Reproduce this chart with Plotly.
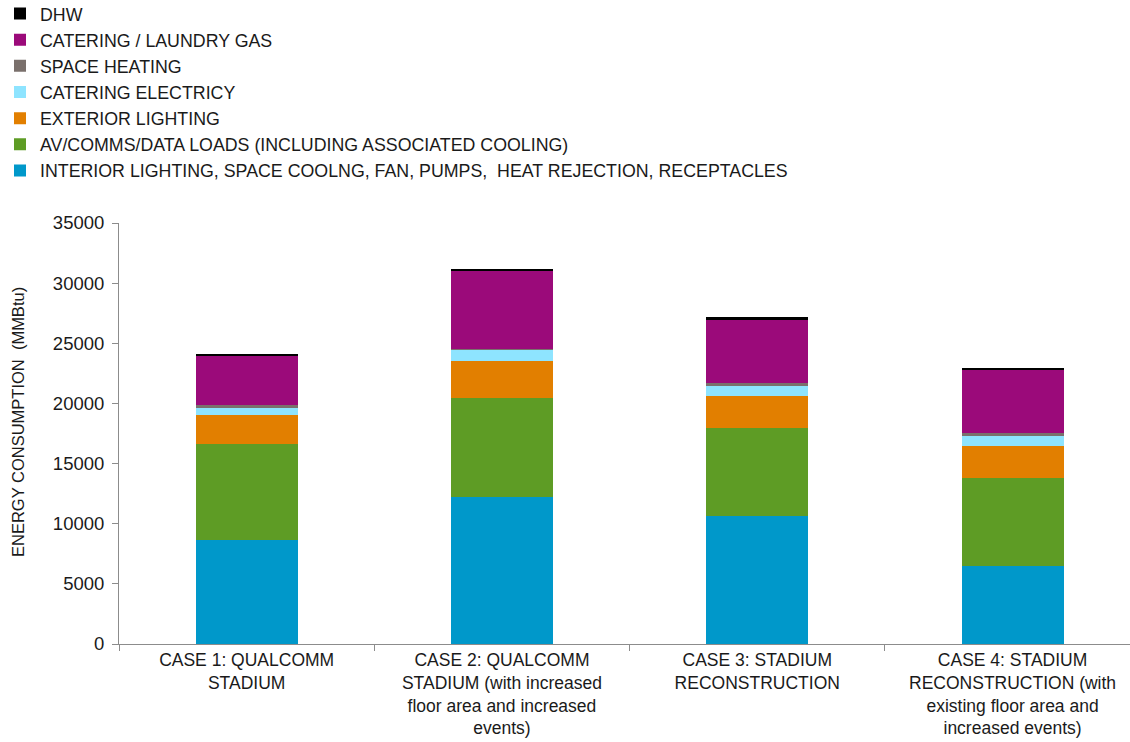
import plotly.graph_objects as go

categories = [
    "CASE 1: QUALCOMM<br>STADIUM",
    "CASE 2: QUALCOMM<br>STADIUM (with increased<br>floor area and increased<br>events)",
    "CASE 3: STADIUM<br>RECONSTRUCTION",
    "CASE 4: STADIUM<br>RECONSTRUCTION (with<br>existing floor area and<br>increased events)",
]

interior = [8650, 12220, 10670, 6510]
av_loads = [8000, 8255, 7290, 7260]
exterior = [2400, 3025, 2660, 2690]
catering_elec = [600, 1000, 860, 860]
space_heating = [200, 60, 220, 220]
catering_gas = [4160, 6450, 5315, 5320]
dhw = [100, 165, 165, 110]

series = [
    ("INTERIOR LIGHTING, SPACE COOLNG, FAN, PUMPS,  HEAT REJECTION, RECEPTACLES", interior, "#0098ca"),
    ("AV/COMMS/DATA LOADS (INCLUDING ASSOCIATED COOLING)", av_loads, "#5e9c25"),
    ("EXTERIOR LIGHTING", exterior, "#e27f00"),
    ("CATERING ELECTRICY", catering_elec, "#8ee4ff"),
    ("SPACE HEATING", space_heating, "#7a706c"),
    ("CATERING / LAUNDRY GAS", catering_gas, "#9b0a7a"),
    ("DHW", dhw, "#000000"),
]

fig = go.Figure()
for i, (name, vals, color) in enumerate(series):
    fig.add_trace(go.Bar(
        x=categories, y=vals, name=name, legendgroup=f"g{i}",
        marker=dict(color=color, line=dict(width=0)),
    ))

font_family = "Liberation Sans, Arial, sans-serif"
txt = "#1a1a1a"
L, T, B = 119, 223, 98
plot_w = 1130 - L
plot_h = 742 - T - B

fig.update_layout(
    barmode="stack",
    bargap=0.6,
    width=1130, height=742,
    margin=dict(l=L, r=0, t=T, b=B, autoexpand=False),
    paper_bgcolor="white", plot_bgcolor="white",
    font=dict(family=font_family, size=18, color=txt),
    legend=dict(
        traceorder="reversed",
        xref="paper", yref="paper",
        x=-L / plot_w, y=(plot_h + T + 4.5) / plot_h,
        xanchor="left", yanchor="top",
        font=dict(size=17.8, color=txt),
        tracegroupgap=0,
        itemwidth=30,
        bgcolor="rgba(0,0,0,0)",
    ),
    xaxis=dict(
        range=[-0.5, 3.46],
        showline=True, linecolor="#8c8c8c", linewidth=1,
        ticks="outside", tickson="boundaries", ticklen=6, tickcolor="#8c8c8c",
        showgrid=False, tickangle=0, tickfont=dict(size=17.5, color=txt),
    ),
    yaxis=dict(
        range=[0, 35000], dtick=5000, tickformat="d",
        showline=True, linecolor="#8c8c8c", linewidth=1,
        ticks="outside", ticklen=6, tickcolor="#8c8c8c",
        showgrid=False, zeroline=False, ticklabelstandoff=4,
        tickfont=dict(size=18.5, color=txt),
    ),
    annotations=[dict(
        text="ENERGY CONSUMPTION  (MMBtu)",
        xref="paper", yref="paper",
        x=(18 - L) / plot_w, y=(644 - 422) / plot_h,
        xanchor="center", yanchor="middle",
        textangle=-90, showarrow=False,
        font=dict(size=16.5, color=txt),
    )],
)

fig.write_html("out.html")
